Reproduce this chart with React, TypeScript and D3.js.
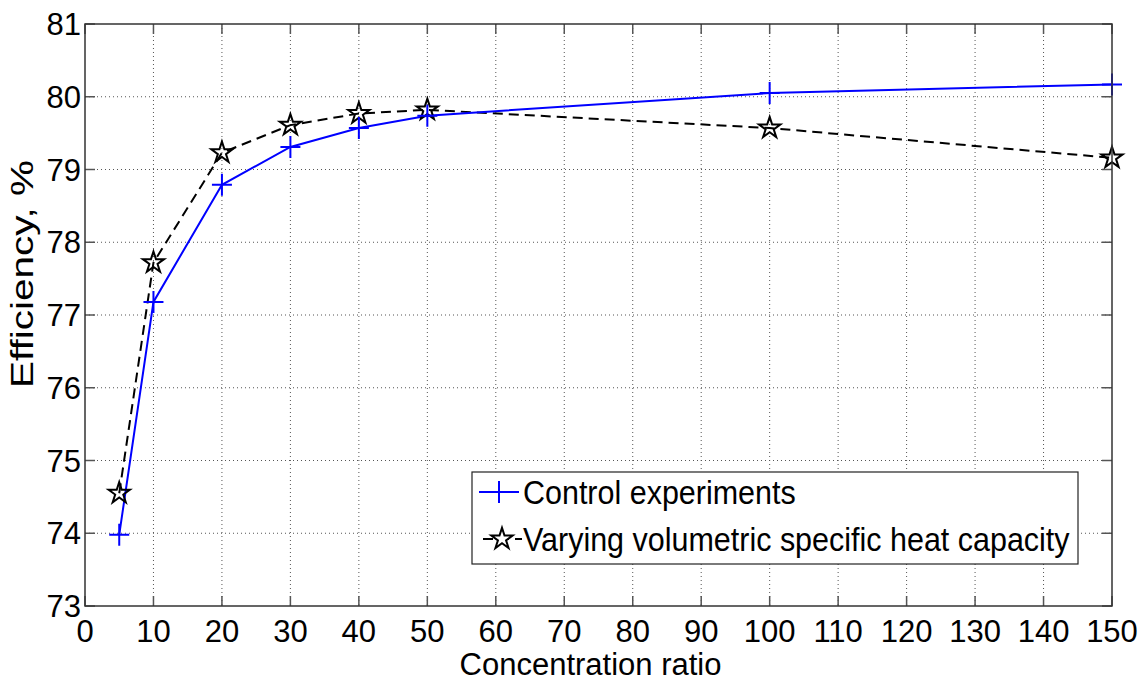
import { useEffect, useRef } from "react";
import * as d3 from "d3";

const ratios = [5, 10, 20, 30, 40, 50, 100, 150];
const controlEff = [73.98, 77.18, 78.79, 79.31, 79.57, 79.74, 80.05, 80.17];
const varyingEff = [74.55, 77.72, 79.23, 79.61, 79.77, 79.82, 79.57, 79.16];
const xTicks = [0, 10, 20, 30, 40, 50, 60, 70, 80, 90, 100, 110, 120, 130, 140, 150];
const yTicks = [73, 74, 75, 76, 77, 78, 79, 80, 81];
const legendLabels = ["Control experiments", "Varying volumetric specific heat capacity"];

const FONT = "'Liberation Sans', Arial, sans-serif";

const App = () => {
    const chartRef = useRef<SVGSVGElement | null>(null);

    useEffect(() => {
        document.body.style.margin = "0";
        const W = 1146, H = 687;
        const left = 85, right = 1112, top = 24, bottom = 606;

        const svg = d3.select(chartRef.current)
            .attr("width", W)
            .attr("height", H);
        svg.selectAll("*").remove();

        const x = d3.scaleLinear().domain([0, 150]).range([left, right]);
        const y = d3.scaleLinear().domain([73, 81]).range([bottom, top]);

        svg.append("rect")
            .attr("width", W).attr("height", H).attr("fill", "white");

        // dotted grid
        const grid = svg.append("g")
            .attr("stroke", "#555")
            .attr("stroke-width", 1)
            .attr("stroke-dasharray", "1,3");
        grid.selectAll(".gx")
            .data(xTicks.slice(1, -1))
            .enter()
            .append("line")
            .attr("x1", d => x(d)).attr("x2", d => x(d))
            .attr("y1", top).attr("y2", bottom);
        grid.selectAll(".gy")
            .data(yTicks.slice(1, -1))
            .enter()
            .append("line")
            .attr("x1", left).attr("x2", right)
            .attr("y1", d => y(d)).attr("y2", d => y(d));

        // inward ticks on all four sides
        const ticks = svg.append("g").attr("stroke", "#555").attr("stroke-width", 1.5);
        const tl = 10;
        xTicks.forEach(t => {
            ticks.append("line").attr("x1", x(t)).attr("x2", x(t)).attr("y1", bottom).attr("y2", bottom - tl);
            ticks.append("line").attr("x1", x(t)).attr("x2", x(t)).attr("y1", top).attr("y2", top + tl);
        });
        yTicks.forEach(t => {
            ticks.append("line").attr("x1", left).attr("x2", left + tl).attr("y1", y(t)).attr("y2", y(t));
            ticks.append("line").attr("x1", right).attr("x2", right - tl).attr("y1", y(t)).attr("y2", y(t));
        });

        // lines
        const lineGen = d3.line<number>()
            .x((d, i) => x(ratios[i]))
            .y(d => y(d));

        svg.append("path")
            .datum(varyingEff)
            .attr("d", lineGen)
            .attr("fill", "none")
            .attr("stroke", "black")
            .attr("stroke-width", 2)
            .attr("stroke-dasharray", "10,6");

        svg.append("path")
            .datum(controlEff)
            .attr("d", lineGen)
            .attr("fill", "none")
            .attr("stroke", "#0000ff")
            .attr("stroke-width", 2);

        const star = d3.symbol().type(d3.symbolStar).size(140)();
        const plus = "M-10,0H10M0,-11V11";

        svg.selectAll(".star")
            .data(varyingEff)
            .enter()
            .append("path")
            .attr("transform", (d, i) => `translate(${x(ratios[i])},${y(d)})`)
            .attr("d", star)
            .attr("fill", "none")
            .attr("stroke", "black")
            .attr("stroke-width", 2);

        svg.selectAll(".plus")
            .data(controlEff)
            .enter()
            .append("path")
            .attr("transform", (d, i) => `translate(${x(ratios[i])},${y(d)})`)
            .attr("d", plus)
            .attr("fill", "none")
            .attr("stroke", "#0000ff")
            .attr("stroke-width", 2);

        // box
        svg.append("rect")
            .attr("x", left).attr("y", top)
            .attr("width", right - left).attr("height", bottom - top)
            .attr("fill", "none")
            .attr("stroke", "#333")
            .attr("stroke-width", 1.5);

        // tick labels
        svg.selectAll(".xl")
            .data(xTicks)
            .enter()
            .append("text")
            .attr("x", d => x(d))
            .attr("y", 642)
            .attr("text-anchor", "middle")
            .style("font-family", FONT)
            .style("font-size", "31px")
            .text(d => d);

        svg.selectAll(".yl")
            .data(yTicks)
            .enter()
            .append("text")
            .attr("x", 81)
            .attr("y", d => y(d))
            .attr("dy", "0.36em")
            .attr("text-anchor", "end")
            .style("font-family", FONT)
            .style("font-size", "31px")
            .text(d => d);

        svg.append("text")
            .attr("x", (left + right) / 2 - 8)
            .attr("y", 675)
            .attr("text-anchor", "middle")
            .style("font-family", FONT)
            .style("font-size", "31px")
            .text("Concentration ratio");

        svg.append("text")
            .attr("transform", "translate(33,274) rotate(-90)")
            .attr("text-anchor", "middle")
            .attr("textLength", 228)
            .attr("lengthAdjust", "spacingAndGlyphs")
            .style("font-family", FONT)
            .style("font-size", "31px")
            .text("Efficiency, %");

        // legend
        const lg = svg.append("g");
        lg.append("rect")
            .attr("x", 472).attr("y", 472)
            .attr("width", 606).attr("height", 92)
            .attr("fill", "white")
            .attr("stroke", "#222")
            .attr("stroke-width", 1.2);

        lg.append("line")
            .attr("x1", 479).attr("x2", 519)
            .attr("y1", 492).attr("y2", 492)
            .attr("stroke", "#0000ff").attr("stroke-width", 2);
        lg.append("path")
            .attr("transform", "translate(499,492)")
            .attr("d", plus)
            .attr("fill", "none")
            .attr("stroke", "#0000ff").attr("stroke-width", 2);

        lg.append("line")
            .attr("x1", 483).attr("x2", 522)
            .attr("y1", 539).attr("y2", 539)
            .attr("stroke", "black").attr("stroke-width", 2)
            .attr("stroke-dasharray", "10,6");
        lg.append("path")
            .attr("transform", "translate(502,539)")
            .attr("d", star)
            .attr("fill", "white")
            .attr("stroke", "black").attr("stroke-width", 2);

        lg.selectAll(".lt")
            .data(legendLabels)
            .enter()
            .append("text")
            .attr("x", 523)
            .attr("y", (d, i) => 504 + i * 47)
            .attr("transform", (d, i) => `translate(0,${(504 + i * 47) * -0.06}) scale(1,1.06)`)
            .style("font-family", FONT)
            .style("font-size", "30.5px")
            .text(d => d);

        return () => {
            d3.select(chartRef.current).selectAll("*").remove();
        };
    }, []);

    return <svg ref={chartRef} style={{ display: "block" }}></svg>;
};

export default App;
